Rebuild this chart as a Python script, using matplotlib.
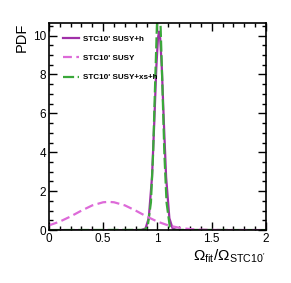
import matplotlib
matplotlib.use("Agg")
import matplotlib.pyplot as plt
from matplotlib.ticker import MultipleLocator

plt.rcParams["font.family"] = ["Liberation Sans", "DejaVu Sans"]
plt.rcParams["mathtext.fontset"] = "custom"
plt.rcParams["mathtext.rm"] = "Liberation Sans"
plt.rcParams["mathtext.it"] = "Liberation Sans:italic"
plt.rcParams["mathtext.bf"] = "Liberation Sans:bold"

# STC10' SUSY+h
susy_h_x = [0.0, 0.85, 0.89, 0.92, 0.95, 0.97, 0.99, 1.005, 1.015, 1.025,
            1.04, 1.06, 1.08, 1.11, 1.14, 1.18, 2.0]
susy_h_y = [0.0, 0.0, 0.08, 0.61, 2.72, 5.42, 8.39, 9.88, 10.2, 9.88,
            8.39, 5.42, 2.72, 0.61, 0.08, 0.0, 0.0]

# STC10' SUSY
susy_x = [0.0, 0.1, 0.2, 0.3, 0.4, 0.5, 0.55, 0.6, 0.7, 0.8, 0.9, 1.0,
          1.1, 1.2, 1.3, 1.4, 1.6, 2.0]
susy_y = [0.24, 0.435, 0.70, 1.00, 1.27, 1.43, 1.45, 1.43, 1.27, 1.00, 0.70, 0.435,
          0.24, 0.118, 0.051, 0.02, 0.0, 0.0]

# STC10' SUSY+xs+h
xs_h_x = [0.0, 0.88, 0.91, 0.94, 0.96, 0.98, 0.995, 1.012, 1.029, 1.044,
          1.064, 1.084, 1.114, 1.144, 2.0]
xs_h_y = [0.0, 0.01, 0.17, 1.42, 3.91, 7.77, 10.49, 11.8, 10.49, 7.77,
          3.91, 1.42, 0.17, 0.01, 0.0]

fig = plt.figure(figsize=(2.91, 2.83), dpi=100)
ax = fig.add_axes([0.168, 0.187, 0.746, 0.732])

ax.plot(susy_h_x, susy_h_y, color="#a030a8", lw=1.6, label="STC10' SUSY+h")
ax.plot(xs_h_x, xs_h_y, color="#3aa83a", lw=1.6, dashes=(5, 1.6),
        label="STC10' SUSY+xs+h")
ax.plot(susy_x, susy_y, color="#dd6ad8", lw=1.6, dashes=(4, 2),
        label="STC10' SUSY")

ax.set_xlim(0, 2)
ax.set_ylim(0, 10.65)

ax.xaxis.set_major_locator(MultipleLocator(0.5))
ax.xaxis.set_minor_locator(MultipleLocator(0.1))
ax.yaxis.set_major_locator(MultipleLocator(2))
ax.yaxis.set_minor_locator(MultipleLocator(0.5))
ax.xaxis.set_major_formatter(plt.FuncFormatter(lambda v, p: f"{v:g}"))

ax.tick_params(which="both", direction="in", top=True, right=True,
               width=1, labelsize=8.5, pad=2)
ax.tick_params(which="major", length=6)
ax.tick_params(which="minor", length=3)
for s in ax.spines.values():
    s.set_linewidth(1.2)

ax.set_ylabel("PDF", fontsize=10.5, loc="top")
ax.yaxis.set_label_coords(-0.095, 1.0)
ax.set_xlabel(r"$\Omega_{\mathrm{fit}}/\Omega_{\mathrm{STC10'}}$",
              fontsize=11, loc="right", labelpad=2)

h, l = ax.get_legend_handles_labels()
order = [0, 2, 1]
ax.legend([h[i] for i in order], [l[i] for i in order], loc="upper left",
          bbox_to_anchor=(0.05, 0.957), frameon=False,
          prop={"size": 5.8, "weight": "bold"}, handlelength=2.0,
          handletextpad=0.5, labelspacing=1.45, borderaxespad=0.0)

fig.savefig("out.png", dpi=100)
